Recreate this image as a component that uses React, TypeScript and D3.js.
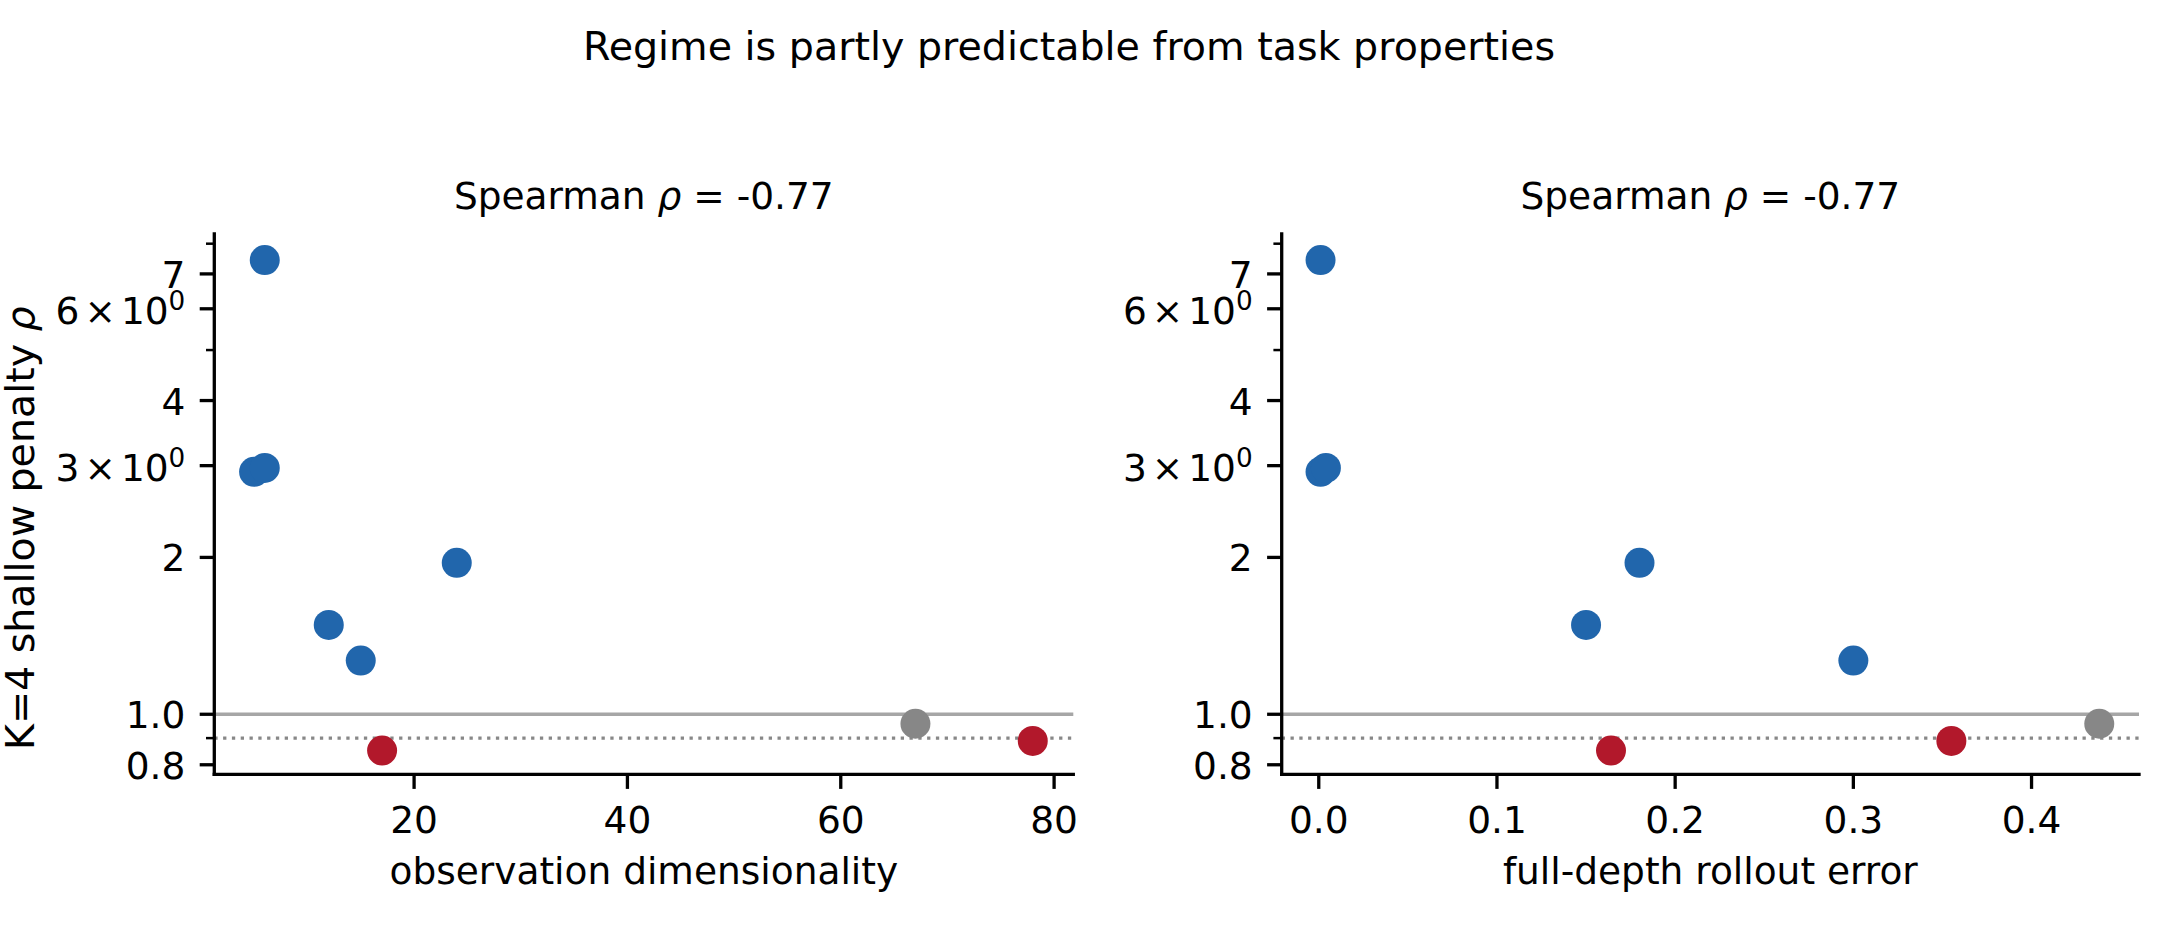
import * as d3 from "d3";

// one entry per task
const regime = ["deep", "deep", "deep", "deep", "deep", "deep", "shallow", "shallow", "neutral"];
const obsDim = [6, 5, 6, 24, 12, 15, 17, 78, 67];
const rolloutErr = [0.001, 0.001, 0.004, 0.18, 0.15, 0.3, 0.164, 0.355, 0.438];
const penalty = [7.44, 2.92, 2.97, 1.953, 1.484, 1.268, 0.852, 0.889, 0.959];

const spearman = [-0.77, -0.77];

const yTickValues = [0.8, 1, 2, 3, 4, 6, 7];
const yTickLabels = ["0.8", "1.0", "2", "3×10^0", "4", "6×10^0", "7"];
const yMinorTicks = [0.9, 5, 8];
const leftXTicks = [20, 40, 60, 80];
const rightXTicks = [0, 0.1, 0.2, 0.3, 0.4];

const colors: Record<string, string> = {
  deep: "#2166ac",
  shallow: "#b2182b",
  neutral: "#878787",
};

const W = 2167;
const H = 926;
const FONT = "DejaVu Sans";
const FS = 37.5;
const TOP = 234;
const BOTTOM = 774.3;

const y = d3.scaleLog().domain([0.767, 8.35]).range([BOTTOM, TOP]);

type PanelProps = {
  x0: number;
  x1: number;
  xs: number[];
  domain: [number, number];
  ticks: number[];
  fmt: (v: number) => string;
  xLabel: string;
  rho: number;
  showYLabel: boolean;
};

function TickLabel({ label, x, yPos }: { label: string; x: number; yPos: number }) {
  const parts = label.split("^");
  if (parts.length === 1) {
    return (
      <text x={x} y={yPos + 14} textAnchor="end" fontSize={FS}>
        {label}
      </text>
    );
  }
  const [mant, rest] = parts[0].split("×");
  return (
    <text x={x} y={yPos + 15.5} textAnchor="end" fontSize={FS}>
      {mant}
      <tspan dx={5}>×</tspan>
      <tspan dx={5}>{rest}</tspan>
      <tspan dy={-14} fontSize={FS * 0.7}>
        {parts[1]}
      </tspan>
    </text>
  );
}

function Panel({ x0, x1, xs, domain, ticks, fmt, xLabel, rho, showYLabel }: PanelProps) {
  const x = d3.scaleLinear().domain(domain).range([x0, x1]);
  const cx = (x0 + x1) / 2;
  return (
    <g fontFamily={FONT}>
      <text x={cx} y={209} textAnchor="middle" fontSize={FS}>
        Spearman <tspan fontStyle="italic">ρ</tspan> = {rho.toFixed(2)}
      </text>

      {/* reference lines */}
      <line x1={x0} x2={x1} y1={y(1)} y2={y(1)} stroke="#a6a6a6" strokeWidth={3.3} />
      <line
        x1={x0}
        x2={x1}
        y1={y(0.9)}
        y2={y(0.9)}
        stroke="#888"
        strokeWidth={3.3}
        strokeDasharray="3.3 5.5"
      />

      {xs.map((v, i) => (
        <circle key={i} cx={x(v)} cy={y(penalty[i])} r={15} fill={colors[regime[i]]} />
      ))}

      {/* spines */}
      <line x1={x0} x2={x0} y1={TOP} y2={BOTTOM} stroke="#000" strokeWidth={3.3} strokeLinecap="square" />
      <line x1={x0} x2={x1} y1={BOTTOM} y2={BOTTOM} stroke="#000" strokeWidth={3.3} strokeLinecap="square" />

      {ticks.map((t) => (
        <g key={t}>
          <line x1={x(t)} x2={x(t)} y1={BOTTOM} y2={BOTTOM + 14.6} stroke="#000" strokeWidth={3.3} />
          <text x={x(t)} y={833} textAnchor="middle" fontSize={FS}>
            {fmt(t)}
          </text>
        </g>
      ))}

      {yTickValues.map((t, i) => (
        <g key={t}>
          <line x1={x0 - 14.6} x2={x0} y1={y(t)} y2={y(t)} stroke="#000" strokeWidth={3.3} />
          <TickLabel label={yTickLabels[i]} x={x0 - 29} yPos={y(t)} />
        </g>
      ))}
      {yMinorTicks.map((t) => (
        <line key={t} x1={x0 - 8.3} x2={x0} y1={y(t)} y2={y(t)} stroke="#000" strokeWidth={2.5} />
      ))}

      <text x={cx} y={884} textAnchor="middle" fontSize={FS}>
        {xLabel}
      </text>

      {showYLabel && (
        <text
          transform={`translate(34,${(TOP + BOTTOM) / 2 + 24}) rotate(-90)`}
          textAnchor="middle"
          fontSize={39.5}
        >
          K=4 shallow penalty <tspan fontStyle="italic">ρ</tspan>
        </text>
      )}
    </g>
  );
}

export default function App() {
  return (
    <svg
      width={W}
      height={H}
      style={{ position: "absolute", left: 0, top: 0, background: "#fff" }}
    >
      <rect width={W} height={H} fill="#fff" />
      <text x={1069} y={60} textAnchor="middle" fontSize={39.6} fontFamily={FONT}>
        Regime is partly predictable from task properties
      </text>
      <Panel
        x0={214.3}
        x1={1073.3}
        xs={obsDim}
        domain={[1.27, 81.8]}
        ticks={leftXTicks}
        fmt={(v) => String(v)}
        xLabel="observation dimensionality"
        rho={spearman[0]}
        showYLabel
      />
      <Panel
        x0={1281.7}
        x1={2139}
        xs={rolloutErr}
        domain={[-0.0208, 0.4603]}
        ticks={rightXTicks}
        fmt={(v) => v.toFixed(1)}
        xLabel="full-depth rollout error"
        rho={spearman[1]}
        showYLabel={false}
      />
    </svg>
  );
}
